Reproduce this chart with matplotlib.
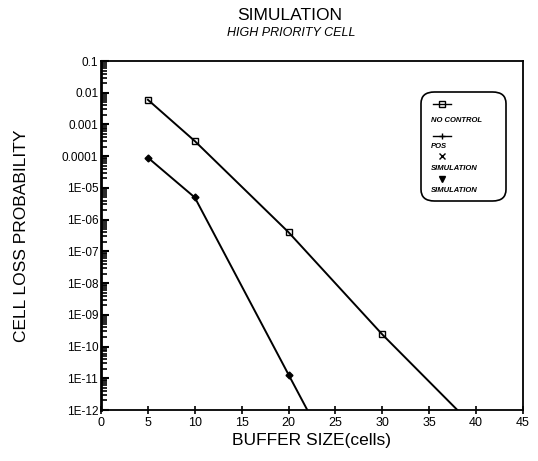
import matplotlib
matplotlib.use("Agg")
import matplotlib.pyplot as plt
from matplotlib.lines import Line2D
from matplotlib.patches import FancyBboxPatch
from matplotlib.ticker import LogLocator, NullFormatter

plt.rcParams["font.family"] = ["Liberation Sans", "DejaVu Sans"]

# curves (analysis) and simulation points
no_control_x = [5, 10, 20, 30, 38]
no_control_y = [6e-3, 3e-4, 4e-7, 2.4e-10, 1e-12]
pos_x = [5, 10, 20, 22]
pos_y = [9e-5, 5e-6, 1.3e-11, 1e-12]

sim_nc_x = [5, 10, 20, 30]
sim_nc_y = [6e-3, 3e-4, 4e-7, 2.4e-10]
sim_pos_x = [5, 10, 20]
sim_pos_y = [9e-5, 5e-6, 1.3e-11]

x_ticks = [0, 5, 10, 15, 20, 25, 30, 35, 40, 45]
y_ticks = [1e-1, 1e-2, 1e-3, 1e-4, 1e-5, 1e-6, 1e-7, 1e-8, 1e-9, 1e-10, 1e-11, 1e-12]
y_labels = ["0.1", "0.01", "0.001", "0.0001", "1E-05", "1E-06", "1E-07",
            "1E-08", "1E-09", "1E-10", "1E-11", "1E-12"]

W, H = 538, 461
fig = plt.figure(figsize=(W / 100, H / 100), dpi=100)
ax = fig.add_axes([101 / W, 1 - 410 / H, 422 / W, 349 / H])

ax.plot(no_control_x, no_control_y, color="black", lw=1.4)
ax.plot(pos_x, pos_y, color="black", lw=1.4)
ax.plot(sim_nc_x, sim_nc_y, ls="none", marker="s", ms=4, mfc="none",
        mec="black", mew=1.0)
ax.plot(sim_pos_x, sim_pos_y, ls="none", marker="D", ms=3.5, color="black")

ax.set_yscale("log")
ax.set_xlim(0, 45)
ax.set_ylim(1e-12, 1e-1)
ax.set_xticks(x_ticks)
ax.set_xticklabels([str(t) for t in x_ticks], fontsize=9)
ax.set_yticks(y_ticks)
ax.set_yticklabels(y_labels, fontsize=8.5)
ax.yaxis.set_minor_locator(LogLocator(base=10, subs=range(2, 10), numticks=20))
ax.yaxis.set_minor_formatter(NullFormatter())
ax.tick_params(axis="y", which="major", direction="in", length=6, width=1.5, pad=2)
ax.tick_params(axis="y", which="minor", direction="in", length=4, width=1.2)
ax.tick_params(axis="x", direction="inout", length=6, width=1.2, pad=2)
for s in ax.spines.values():
    s.set_linewidth(1.3)
ax.spines["left"].set_linewidth(2)

ax.set_xlabel("BUFFER SIZE(cells)", fontsize=12.5, labelpad=3)
ax.set_ylabel("CELL LOSS PROBABILITY", fontsize=12.5, labelpad=24)

fig.text(290 / W, 1 - 15 / H, "SIMULATION", fontsize=12.5, ha="center", va="center")
fig.text(291 / W, 1 - 33 / H, "HIGH PRIORITY CELL", fontsize=9, style="italic",
         ha="center", va="center")

# legend box drawn by hand (stacked symbol over label, as in the original)
def fx(px):
    return px / W

def fy(py):
    return 1 - py / H

box = FancyBboxPatch((fx(421), fy(201)), fx(506) - fx(421), fy(92) - fy(201),
                     boxstyle="round,pad=0,rounding_size=0.025",
                     transform=fig.transFigure, fc="white", ec="black", lw=1.2)
fig.patches.append(box)

entries = [
    (104, "s", "none", "-", 120, "NO CONTROL"),
    (136, "+", "black", "-", 146, "POS"),
    (156, "x", "black", "none", 168, "SIMULATION"),
    (179, "v", "black", "none", 190, "SIMULATION"),
]
for hy, mk, mfc, ls, ty, label in entries:
    fig.add_artist(Line2D([fx(433), fx(451)], [fy(hy), fy(hy)], transform=fig.transFigure,
                          color="black", lw=1.0, ls=ls))
    fig.add_artist(Line2D([fx(442)], [fy(hy)], transform=fig.transFigure,
                          marker=mk, ms=4, mfc=mfc, mec="black", ls="none"))
    fig.text(fx(431), fy(ty), label, fontsize=5.5, style="italic", weight="bold",
             ha="left", va="center")

fig.savefig("out.png", dpi=100)
